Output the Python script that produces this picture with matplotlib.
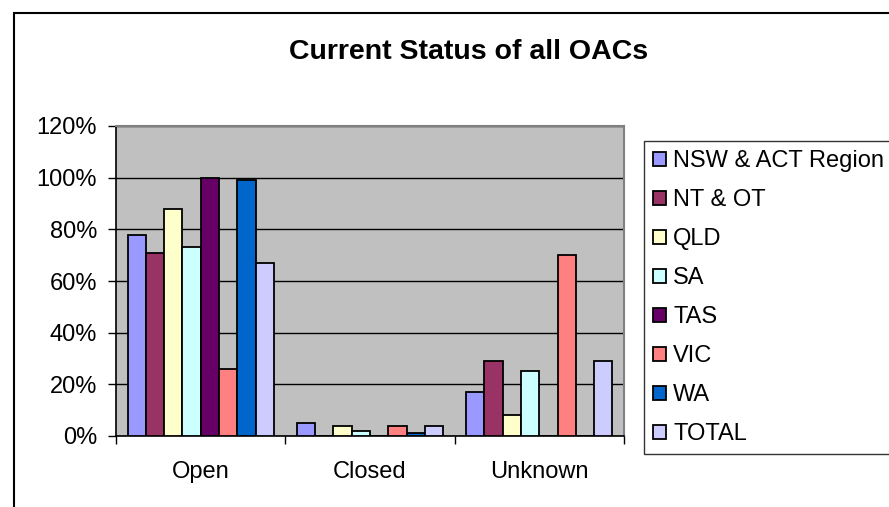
import matplotlib
matplotlib.use("Agg")
import matplotlib.pyplot as plt
import numpy as np
from matplotlib.patches import Rectangle
from matplotlib.ticker import FixedLocator, PercentFormatter

plt.rcParams['font.family'] = ['Liberation Sans', 'DejaVu Sans']

categories = ["Open", "Closed", "Unknown"]
series = ["NSW & ACT Region", "NT & OT", "QLD", "SA", "TAS", "VIC", "WA", "TOTAL"]
nsw = [78, 5, 17]
nt = [71, 0, 29]
qld = [88, 4, 8]
sa = [73, 2, 25]
tas = [100, 0, 0]
vic = [26, 4, 70]
wa = [99, 1, 0]
total = [67, 4, 29]
values = [nsw, nt, qld, sa, tas, vic, wa, total]
colors = ["#9999FF", "#993366", "#FFFFCC", "#CCFFFF", "#660066", "#FF8080", "#0066CC", "#CCCCFF"]
yticks = [0, 20, 40, 60, 80, 100, 120]

W, H = 889, 507
fig = plt.figure(figsize=(W / 100, H / 100), dpi=100)
fig.patch.set_facecolor("white")

# outer chart border (extends past the cropped right/bottom edges)
fig.patches.append(Rectangle((13.5 / W, -0.1), 1.2, 1 - 12.5 / H + 0.1,
                             transform=fig.transFigure, fill=False,
                             edgecolor="black", linewidth=1.5, zorder=0))

ax = fig.add_axes([116 / W, 1 - 436 / H, (624 - 116) / W, (436 - 126) / H])
ax.set_facecolor("#C0C0C0")

n = len(series)
bw = 0.108
x = np.arange(len(categories))
for i, (name, vals, c) in enumerate(zip(series, values, colors)):
    offs = (i - (n - 1) / 2) * bw
    ax.bar(x + offs, vals, width=bw, color=c, edgecolor="black",
           linewidth=1.3, label=name, zorder=3)

ax.set_xlim(-0.5, len(categories) - 0.5)
ax.set_ylim(0, 120)
ax.yaxis.set_major_locator(FixedLocator(yticks))
ax.yaxis.set_major_formatter(PercentFormatter(decimals=0))
ax.grid(axis="y", color="black", linewidth=1.0, zorder=1)

# category boundary ticks, labels at centers
ax.set_xticks(np.arange(len(categories) + 1) - 0.5)
ax.set_xticklabels([])
ax.set_xticks(x, minor=True)
ax.set_xticklabels(categories, minor=True)
ax.tick_params(axis="x", which="minor", length=0, pad=18, labelsize=17)
ax.tick_params(axis="x", which="major", length=6, width=1, color="black")
ax.tick_params(axis="y", length=5.5, width=1, pad=8, labelsize=17)

for s in ["left", "bottom"]:
    ax.spines[s].set_color("black")
    ax.spines[s].set_linewidth(1.2)
for s in ["top", "right"]:
    ax.spines[s].set_color("#808080")
    ax.spines[s].set_linewidth(1.5)

fig.text((288 + 649) / 2 / W, 1 - 52 / H, "Current Status of all OACs",
         ha="center", va="center", fontsize=20.5, fontweight="bold")

leg = ax.legend(loc="upper left", bbox_to_anchor=(644 / W, 1 - 141 / H),
                bbox_transform=fig.transFigure, frameon=True, fancybox=False,
                fontsize=17, handlelength=0.55, handleheight=0.55,
                handletextpad=0.3, labelspacing=0.72, borderpad=0.38,
                borderaxespad=0)
leg.get_frame().set_edgecolor("black")
leg.get_frame().set_linewidth(1.0)
for p in leg.get_patches():
    p.set_linewidth(1.3)

fig.savefig("out.png", dpi=100)
